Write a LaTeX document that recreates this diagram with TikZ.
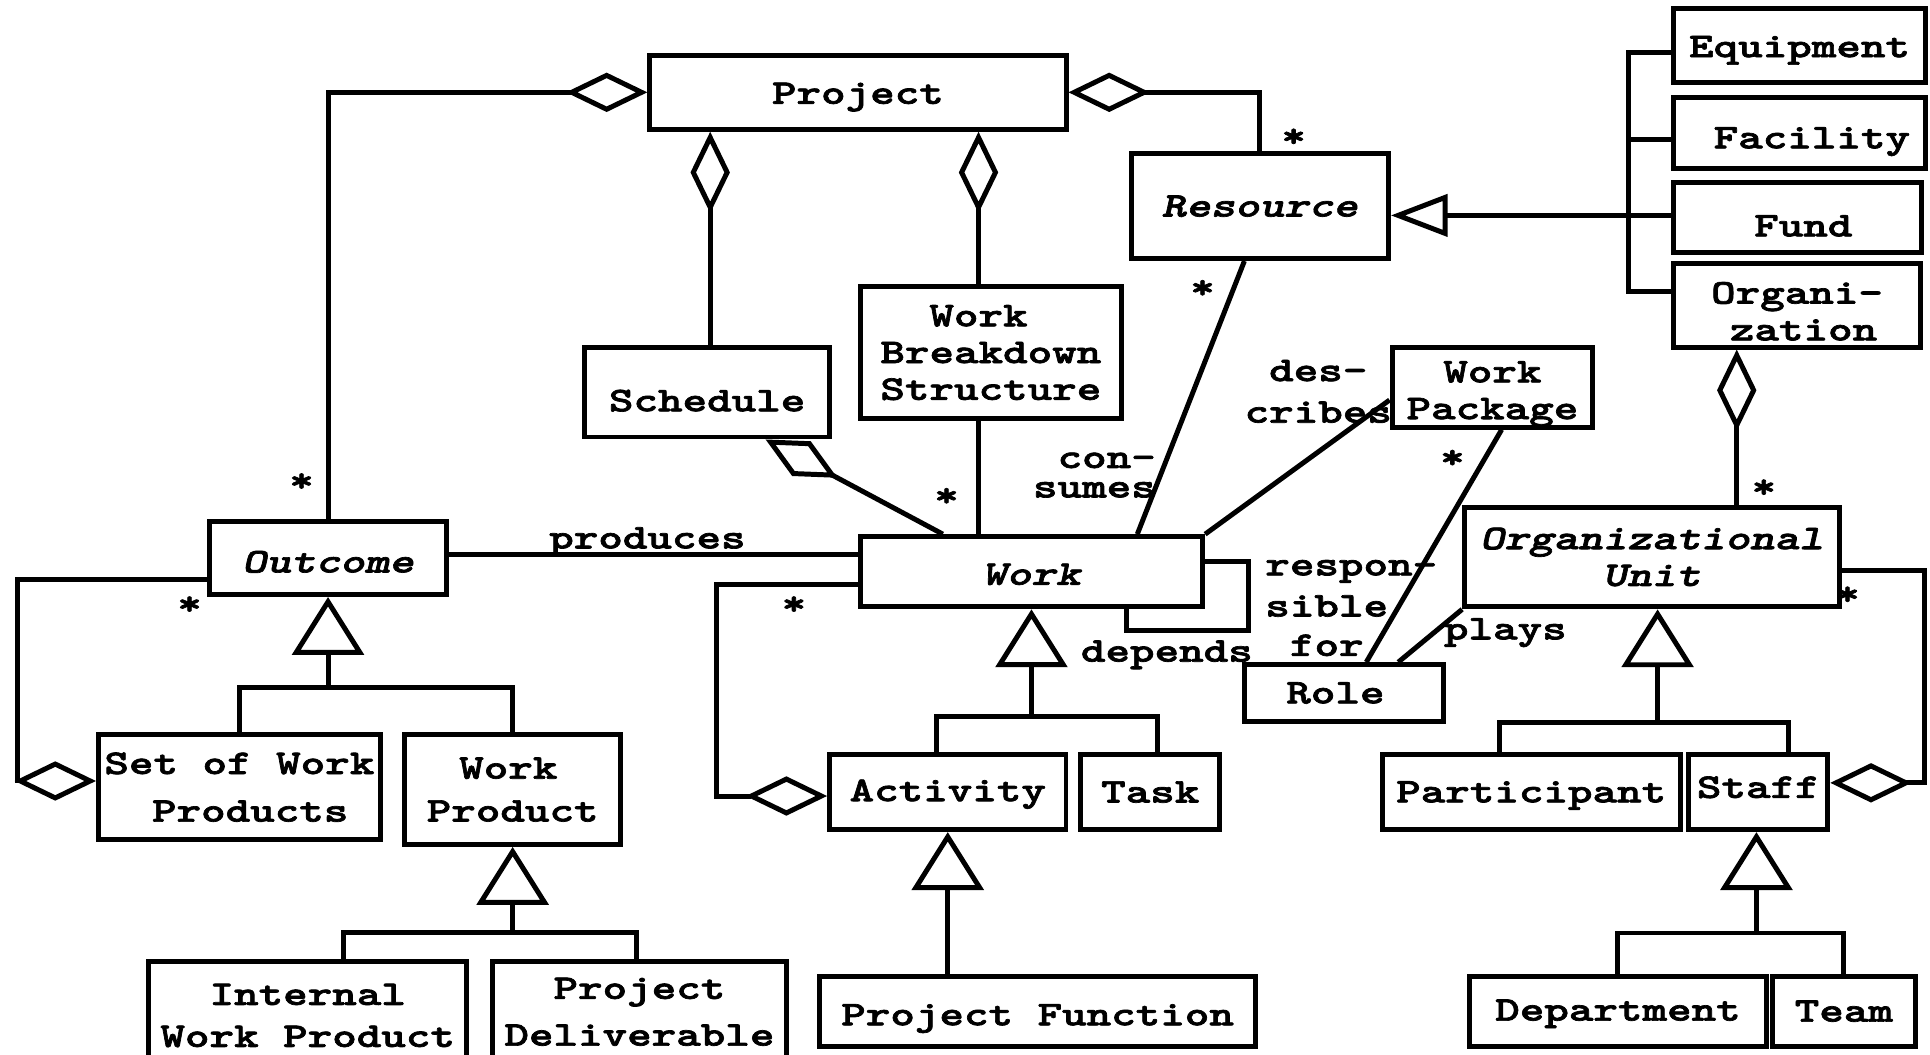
\documentclass[tikz,border=0pt]{standalone}
\usepackage{graphicx}
\usepackage{fontspec}
\usetikzlibrary{arrows.meta,calc}

% heavy, widened typewriter face
\newfontfamily\dfam{lmmonolt10}[Extension=.otf, UprightFont=*-bold, BoldFont=*-bold,
  ItalicFont=*-boldoblique, BoldItalicFont=*-boldoblique, FakeStretch=1.35, FakeBold=2]
\newcommand{\dfont}{\dfam\fontsize{8}{8.5}\selectfont}
% move a line of text vertically without changing its box
\newcommand{\lo}[2]{\raisebox{-#1}[\height][\depth]{#2}}
\newlength{\lw}\setlength{\lw}{1.15pt}

\tikzset{
  box/.style={draw, line width=\lw, inner sep=0pt, font=\dfont, align=center},
  agg/.style={-{Diamond[open, length=0.66cm, width=0.32cm]}},
  gen/.style={-{Triangle[open, length=0.47cm, width=0.58cm]}},
  genthin/.style={-{Triangle[open, length=0.46cm, width=0.34cm]}},
  lbl/.style={font=\dfont, inner sep=0pt, align=center},
  mult/.style={font=\dfont, inner sep=0pt},
}

\begin{document}
\begin{tikzpicture}[x=0.01cm, y=-0.01cm, line width=\lw, line join=miter]
\fill[white] (0,0) rectangle (1568,857);
\useasboundingbox (0,0) rectangle (1568,857);
\clip (0,0) rectangle (1568,857);

% ---------- classes ----------
\node[box, minimum width=3.38cm, minimum height=0.60cm] (project) at (697,75) {\lo{1.1pt}{Project}};
\node[box, minimum width=2.09cm, minimum height=0.85cm] (resource) at (1023.5,167.5) {\itshape Resource};
\node[box, minimum width=2.04cm, minimum height=0.60cm] (equip) at (1462,37) {\lo{1.1pt}{Equipment}};
\node[box, minimum width=2.04cm, minimum height=0.58cm] (facility) at (1462,108) {\hspace*{5.7pt}\lo{2pt}{Facility}};
\node[box, minimum width=2.01cm, minimum height=0.57cm] (fund) at (1460.5,176.5) {\hspace*{2.6pt}\lo{2pt}{Fund}};
\node[box, minimum width=2.00cm, minimum height=0.68cm] (orgn) at (1460,248) {\lo{1.4pt}{Organi-}\\\hspace*{3pt}\lo{1.4pt}{zation}};
\node[box, minimum width=1.99cm, minimum height=0.73cm] (schedule) at (574.5,318.5) {\lo{2pt}{Schedule}};
\node[box, minimum width=2.12cm, minimum height=1.07cm] (wbs) at (805,286.5) {Work\hspace*{5.7pt}\\Breakdown\\Structure};
\node[box, minimum width=1.63cm, minimum height=0.65cm] (wpkg) at (1212.5,314.5) {\lo{1.6pt}{Work}\\\lo{1.6pt}{Package}};
\node[box, minimum width=1.93cm, minimum height=0.59cm] (outcome) at (266.5,453.5) {\itshape\lo{0.85pt}{Outcome}};
\node[box, minimum width=2.78cm, minimum height=0.57cm] (work) at (838,464.5) {\itshape\lo{0.6pt}{Work}};
\node[box, minimum width=3.04cm, minimum height=0.81cm] (orgunit) at (1342,452.5) {\itshape Organizational\\\itshape Unit};
\node[box, minimum width=1.62cm, minimum height=0.46cm] (role) at (1092,563) {Role\hspace*{4pt}};
\node[box, minimum width=2.29cm, minimum height=0.85cm] (setwp) at (194.5,639.5) {Set of Work\\[2.5pt]\hspace*{5pt}Products};
\node[box, minimum width=1.75cm, minimum height=0.89cm] (wprod) at (416.5,641.5) {Work\hspace*{2pt}\\[1.4pt]Product};
\node[box, minimum width=1.92cm, minimum height=0.61cm] (activity) at (770,643.5) {\lo{0.5pt}{Activity}};
\node[box, minimum width=1.13cm, minimum height=0.61cm] (task) at (934.5,643.5) {Task};
\node[box, minimum width=2.42cm, minimum height=0.61cm] (participant) at (1244,643.5) {\lo{0.8pt}{Participant}};
\node[box, minimum width=1.13cm, minimum height=0.61cm] (staff) at (1428.5,643.5) {\lo{-1.1pt}{Staff}};
\node[box, minimum width=2.58cm, minimum height=0.88cm] (iwp) at (250,825) {Internal\\[1.2pt]Work Product};
\node[box, minimum width=2.39cm, minimum height=0.88cm] (pdel) at (519.5,825) {\lo{-0.85pt}{Project}\\[2.3pt]\lo{-0.85pt}{Deliverable}};
\node[box, minimum width=3.54cm, minimum height=0.57cm] (pfunc) at (843,821.5) {\lo{1.7pt}{Project Function}};
\node[box, minimum width=2.41cm, minimum height=0.57cm] (dept) at (1314.5,821.5) {\lo{0.6pt}{Department}};
\node[box, minimum width=1.16cm, minimum height=0.57cm] (team) at (1498,821.5) {Team};

% ---------- helper positions ----------
\coordinate (xs) at (577,0);
\coordinate (xw) at (795,0);
\coordinate (xsw) at (766,0);
\coordinate (xsd) at (622,0);
\coordinate (bus) at (1323,175);
\coordinate (xo) at (1411,0);
\coordinate (gO) at (266.5,558.4);
\coordinate (gP) at (416.5,757.4);
\coordinate (gPl) at (279.3,757.4);
\coordinate (gPr) at (516.8,757.4);
\coordinate (gW) at (838,581.8);
\coordinate (gWl) at (761,581.8);
\coordinate (gWr) at (940.5,581.8);
\coordinate (gU) at (1346.7,586.6);
\coordinate (gUl) at (1218.4,586.6);
\coordinate (gUr) at (1452.7,586.6);
\coordinate (gS) at (1427,758);
\coordinate (oL) at (14,634.5);
\coordinate (wL) at (582.5,646.7);
\coordinate (uR) at (1563.7,636);
\coordinate (yp) at (0,450.5);
\coordinate (xc1) at (924,0);
\coordinate (xc2) at (1011,0);
\coordinate (xr1) at (1220,0);
\coordinate (xr2) at (1110,0);
\coordinate (xpl) at (1136,0);
\coordinate (d1) at (1014,512);
\coordinate (yd) at (0,456);
\coordinate (xd) at (915,0);

% ---------- aggregations into Project ----------
\draw[agg] (outcome.north) |- (project.west);
\draw[agg] (resource.north) |- (project.east);
\draw[agg] (schedule.north -| xs) -- (project.south -| xs);
\draw[agg] (wbs.north -| xw) -- (project.south -| xw);
\draw (wbs.south -| xw) -- (work.north -| xw);
\draw[agg] (work.north -| xsw) -- (schedule.south -| xsd);

% ---------- resource kinds ----------
\draw[genthin] (bus) -- (resource.east |- bus);
\draw ($(equip.west)+(0,6)$) -| (bus);
\draw ($(facility.west)+(0,5)$) -| (bus);
\draw ($(fund.west)+(0,-1.5)$) -- (bus);
\draw ($(orgn.west)+(0,-11)$) -| (bus);
\draw[agg] (orgunit.north -| xo) -- (orgn.south -| xo);

% ---------- outcome hierarchy ----------
\draw[gen] (gO) -- (outcome.south);
\draw (setwp.north) |- (gO) -| (wprod.north);
\draw[gen] (gP) -- (wprod.south);
\draw (iwp.north -| gPl) |- (gPr) -- (pdel.north -| gPr);

% ---------- work hierarchy ----------
\draw[gen] (gW) -- (work.south);
\draw (activity.north -| gWl) |- (gWr) -- (task.north -| gWr);
\draw[gen] (pfunc.north -| activity.south) -- (activity.south);

% ---------- organizational unit hierarchy ----------
\draw[gen] (gU) -- (orgunit.south -| gU);
\draw (participant.north -| gUl) |- (gUr) -- (staff.north -| gUr);
\draw[gen] (gS) -- (staff.south -| gS);
\draw (dept.north) |- (gS) -| (team.north);

% ---------- recursive aggregations ----------
\draw[agg] ($(outcome.west)+(0,17)$) -| (oL) -- (setwp.west |- oL);
\draw[agg] ($(work.west)+(0,10)$) -| (wL) -- (activity.west |- wL);
\draw[agg] ($(orgunit.east)+(0,11)$) -| (uR) -- (staff.east |- uR);

% ---------- associations ----------
\draw (outcome.east |- yp) -- (work.west |- yp);
\draw (work.north -| xc1) -- (resource.south -| xc2);
\draw (work.north east) -- ($(wpkg.west)+(0,10.5)$);
\draw (wpkg.south -| xr1) -- (role.north -| xr2);
\draw (role.north -| xpl) -- (orgunit.south west);
\draw (work.east |- yd) -| (d1) -| (work.south -| xd);

% ---------- association labels ----------
\node[lbl] (lprod) at (526,440) {produces};
\node[lbl, align=right, anchor=east] (lcons) at (941,386) {con-\\[-1.7pt]sumes};
\node[lbl] (ldesc) at (1071,318) {des-\\[1.1pt]cribes};
\node[lbl, align=left, anchor=west] (lresp) at (1026,494) {respon-\\[1pt]sible\\[0.6pt]\hspace*{5.7pt}for};
\node[lbl] (ldep) at (948,532) {depends};
\node[lbl] (lplays) at (1223,514) {plays};

% ---------- multiplicities ----------
\node[mult] (m1) at (1051,112) {*};
\node[mult] (m2) at (977,235) {*};
\node[mult] (m3) at (245,392) {*};
\node[mult] (m4) at (769,404) {*};
\node[mult] (m5) at (154,492) {*};
\node[mult] (m6) at (645,492) {*};
\node[mult] (m7) at (1180,373) {*};
\node[mult] (m8) at (1433,397) {*};
\node[mult] (m9) at (1501,484) {*};
\end{tikzpicture}
\end{document}
